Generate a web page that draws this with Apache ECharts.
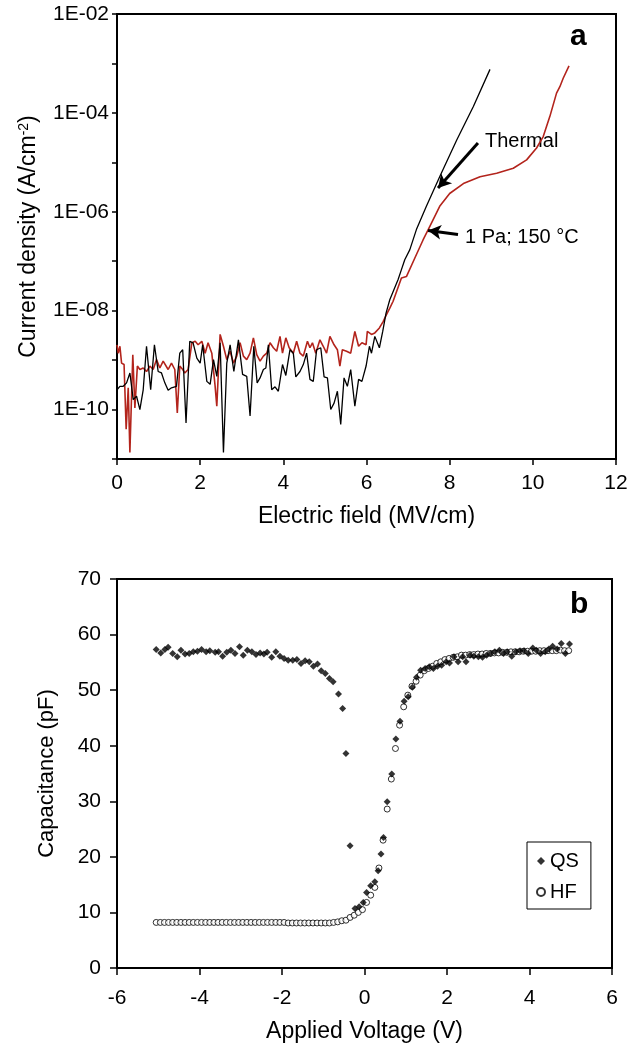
<!DOCTYPE html>
<html><head><meta charset="utf-8">
<script src="https://cdn.jsdelivr.net/npm/echarts@6/dist/echarts.min.js"></script>
<style>html,body{margin:0;padding:0;background:#fff}#c{width:636px;height:1045px}</style>
</head><body><div id="c"></div>
<script>
// ---------- Panel a: current density vs electric field ----------
const thermalE = [0.0,0.07,0.15,0.23,0.31,0.39,0.47,0.55,0.63,0.71,0.81,0.90,0.99,1.07,1.15,1.23,1.31,1.43,1.51,1.58,1.66,1.75,1.83,1.92,2.0,2.06,2.16,2.24,2.32,2.40,2.48,2.56,2.64,2.72,2.81,2.92,3.02,3.12,3.20,3.29,3.37,
3.44,3.52,3.58,3.64,3.72,3.80,3.88,3.98,4.06,4.16,4.24,4.30,4.40,4.48,4.56,4.64,4.72,4.80,4.90,4.98,5.06,5.14,5.22,5.30,5.38,5.46,5.54,5.62,5.72,5.81,5.89,5.99,6.07,6.12,6.20,6.31,6.39,6.47,6.56,
6.76,6.84,6.92,7.04,7.20,7.44,7.76,8.17,8.57,8.97];
// log10 of current density (A/cm^2)
const thermalLogJ = [-9.60,-9.53,-9.53,-9.46,-9.26,-9.80,-9.73,-10.0,-9.60,-8.72,-9.60,-8.69,-9.23,-9.26,-9.46,-9.61,-9.56,-9.53,-8.86,-8.79,-10.27,-8.62,-8.65,-8.96,-9.06,-8.69,-9.43,-9.49,-8.99,-9.33,-8.65,-10.87,-9.06,-8.69,-9.23,-8.59,-9.29,-9.33,-10.13,-8.72,-9.46,
-9.36,-9.19,-9.16,-8.69,-9.60,-9.54,-9.63,-9.09,-9.31,-8.79,-8.86,-9.34,-9.23,-9.09,-8.86,-9.39,-9.43,-8.79,-8.75,-9.34,-9.36,-10.0,-9.87,-9.63,-10.30,-9.36,-9.53,-9.19,-9.93,-9.39,-9.43,-9.12,-8.72,-8.86,-8.52,-8.75,-8.42,-8.05,-7.78,
-7.37,-7.17,-6.97,-6.77,-6.36,-5.89,-5.29,-4.55,-3.87,-3.12];

const plasmaE = [0.0,0.03,0.07,0.11,0.17,0.22,0.27,0.31,0.38,0.43,0.49,0.55,0.63,0.71,0.79,0.87,0.95,1.03,1.11,1.23,1.31,1.39,1.45,1.51,1.58,1.63,1.71,1.80,1.88,1.95,2.04,2.12,2.19,2.28,2.36,2.40,2.48,2.56,2.64,2.72,2.80,2.88,2.96,3.04,3.12,3.20,3.28,3.36,
3.44,3.52,3.60,3.68,3.76,3.84,3.92,3.98,4.06,4.14,4.24,4.32,4.40,4.48,4.58,4.64,4.70,4.78,4.88,4.96,5.04,5.12,5.22,5.30,5.36,5.42,5.52,5.62,5.72,5.81,5.89,5.99,6.02,6.12,6.20,6.31,6.40,6.48,6.56,6.64,
6.84,6.96,7.16,7.36,7.52,7.76,8.0,8.33,8.73,9.13,9.53,9.85,10.09,10.25,10.41,10.57,10.65,10.73,10.87];
const plasmaLogJ = [-8.69,-8.86,-8.72,-9.06,-9.09,-10.40,-9.56,-10.87,-8.89,-9.97,-9.12,-9.19,-9.16,-9.23,-9.12,-9.19,-8.99,-9.16,-9.02,-9.19,-9.06,-9.19,-10.07,-9.12,-9.19,-9.26,-9.19,-8.65,-8.62,-8.69,-8.62,-8.86,-8.65,-8.86,-9.53,-9.93,-8.48,-8.72,-8.99,-8.82,-9.06,-8.92,-8.65,-8.92,-8.99,-8.86,-8.55,-8.89,
-9.02,-8.92,-8.86,-8.65,-8.75,-8.82,-8.52,-8.86,-8.55,-8.75,-8.86,-8.62,-8.86,-8.92,-8.62,-8.75,-8.65,-8.86,-8.59,-8.72,-8.86,-8.52,-8.69,-8.79,-9.12,-8.79,-8.82,-8.86,-8.42,-8.72,-8.65,-8.69,-8.42,-8.48,-8.45,-8.35,-8.22,-8.08,-7.95,-7.81,
-7.34,-7.31,-6.94,-6.57,-6.30,-5.89,-5.63,-5.43,-5.29,-5.22,-5.12,-4.95,-4.71,-4.48,-4.07,-3.60,-3.47,-3.30,-3.05];

// annotation arrows [fromE, fromLogJ, toE, toLogJ]
const thermalArrow = [8.68, -4.61, 7.72, -5.52];
const plasmaArrow = [8.20, -6.46, 7.48, -6.38];

// ---------- Panel b: C-V ----------
const qsV = [-5.05,-4.94,-4.84,-4.76,-4.65,-4.54,-4.45,-4.35,-4.25,-4.15,-4.05,-3.95,-3.84,-3.75,-3.62,-3.54,-3.44,-3.34,-3.24,-3.14,-3.03,-2.94,-2.84,-2.73,-2.63,-2.53,-2.44,-2.36,-2.25,-2.15,-2.05,-1.95,-1.85,-1.74,-1.64,-1.54,-1.44,-1.34,-1.24,-1.14,-1.05,-0.95,-0.85,-0.76,-0.63,-0.53,-0.45,-0.35,-0.23,-0.13,-0.03,0.05,0.15,0.25,0.33,0.40,0.46,0.55,0.66,0.76,0.86,0.96,1.06,1.16,1.26,1.36,1.47,1.57,1.67,1.77,1.87,1.98,2.06,2.17,2.27,2.38,2.46,2.56,2.65,2.76,2.86,2.96,3.06,3.16,3.27,3.37,3.46,3.57,3.67,3.77,3.87,3.97,4.08,4.17,4.27,4.38,4.47,4.56,4.67,4.77,4.87,4.97];
const qsC = [57.3,56.7,57.3,57.7,56.6,56.0,57.2,56.5,56.6,56.9,57.0,57.3,56.9,57.1,56.8,56.9,56.1,56.8,57.2,56.6,57.8,56.3,57.2,56.9,56.4,56.7,56.5,56.8,55.9,56.9,56.1,55.7,55.4,55.4,55.5,54.8,55.3,55.1,54.3,54.7,53.5,53.0,52.1,51.5,49.3,46.7,38.6,22.0,10.7,11.0,11.8,13.6,14.8,15.5,17.5,20.5,23.5,29.9,34.9,41.2,44.4,48.0,48.8,50.5,52.3,53.6,53.9,54.2,53.9,54.3,54.5,55.1,54.9,56.0,55.1,56.0,55.1,56.3,56.1,56.0,55.9,56.3,56.6,56.9,57.2,56.6,56.9,56.1,56.9,57.1,57.1,56.6,57.6,57.2,56.6,56.9,57.4,57.9,57.4,58.4,56.6,58.3];

const hfV = [-5.05,-4.95,-4.85,-4.75,-4.65,-4.55,-4.45,-4.35,-4.25,-4.15,-4.05,-3.95,-3.85,-3.75,-3.65,-3.55,-3.45,-3.35,-3.25,-3.15,-3.05,-2.95,-2.85,-2.75,-2.65,-2.55,-2.45,-2.35,-2.25,-2.15,-2.05,-1.95,-1.85,-1.75,-1.65,-1.55,-1.45,-1.35,-1.25,-1.15,-1.05,-0.95,-0.85,-0.75,-0.65,-0.55,-0.45,-0.35,-0.25,-0.15,-0.05,0.05,0.15,0.25,0.35,0.45,0.55,0.65,0.75,0.85,0.95,1.05,1.15,1.25,1.35,1.45,1.55,1.65,1.75,1.85,1.95,2.05,2.15,2.25,2.35,2.45,2.55,2.65,2.75,2.85,2.95,3.05,3.15,3.25,3.35,3.45,3.55,3.65,3.75,3.85,3.95,4.05,4.15,4.25,4.35,4.45,4.55,4.65,4.75,4.85,4.95];
const hfC = [8.2,8.2,8.2,8.2,8.2,8.2,8.2,8.2,8.2,8.2,8.2,8.2,8.2,8.2,8.2,8.2,8.2,8.2,8.2,8.2,8.2,8.2,8.2,8.2,8.2,8.2,8.2,8.2,8.2,8.2,8.2,8.2,8.1,8.1,8.1,8.1,8.1,8.1,8.1,8.1,8.1,8.1,8.1,8.2,8.3,8.5,8.6,9.1,9.5,10.0,10.5,11.8,13.1,14.5,18.0,23.0,28.6,34.0,39.5,43.7,47.0,49.1,50.7,51.6,52.7,53.5,53.9,54.3,54.8,55.1,55.5,55.7,55.9,56.0,56.3,56.3,56.4,56.4,56.5,56.5,56.6,56.6,56.7,56.7,56.8,56.8,56.9,56.9,56.9,57.0,57.0,57.0,57.0,57.1,57.1,57.1,57.1,57.1,57.2,57.1,57.1];

const yTicksA = [-11, -2]; // log10 range of panel a

const FONT = '"Liberation Sans", Arial, sans-serif';
const pow = v => Math.pow(10, v);
const pairsLog = (xs, ys) => xs.map((x, i) => [x, pow(ys[i])]);
const pairs = (xs, ys) => xs.map((x, i) => [x, ys[i]]);

const chart = echarts.init(document.getElementById('c'), null, {renderer: 'canvas'});
const tickStyle = {color: '#000', width: 1.5};
const TICKFS = 21;
chart.setOption({
  animation: false,
  backgroundColor: '#fff',
  textStyle: {fontFamily: FONT, color: '#000'},
  grid: [
    {left: 117, top: 14, width: 499, height: 445, show: true, borderColor: '#000', borderWidth: 2, backgroundColor: 'transparent'},
    {left: 117, top: 579, width: 495, height: 389, show: true, borderColor: '#000', borderWidth: 2, backgroundColor: 'transparent'}
  ],
  xAxis: [
    {gridIndex: 0, type: 'value', min: 0, max: 12, interval: 2,
     name: 'Electric field (MV/cm)', nameLocation: 'middle', nameGap: 46,
     nameTextStyle: {fontSize: 23, color: '#000', fontFamily: FONT},
     axisLine: {onZero: false, lineStyle: {color: '#000', width: 2}},
     axisTick: {length: 6, lineStyle: tickStyle},
     axisLabel: {fontSize: TICKFS, color: '#000', margin: 14, fontFamily: FONT},
     splitLine: {show: false}},
    {gridIndex: 1, type: 'value', min: -6, max: 6, interval: 2,
     name: 'Applied Voltage (V)', nameLocation: 'middle', nameGap: 52,
     nameTextStyle: {fontSize: 23, color: '#000', fontFamily: FONT},
     axisLine: {onZero: false, lineStyle: {color: '#000', width: 2}},
     axisTick: {length: 7, lineStyle: tickStyle},
     axisLabel: {fontSize: TICKFS, color: '#000', margin: 20, fontFamily: FONT},
     splitLine: {show: false}}
  ],
  yAxis: [
    {gridIndex: 0, type: 'log', logBase: 10, min: pow(yTicksA[0]), max: pow(yTicksA[1]), splitNumber: 9, interval: 1,
     name: '{n|Current density (A/cm}{sup|-2}{n|)}', nameLocation: 'middle', nameGap: 77,
     nameTextStyle: {fontSize: 23, color: '#000', fontFamily: FONT,
       rich: {n: {fontSize: 23, fontFamily: FONT, color: '#000'}, sup: {fontSize: 14, fontFamily: FONT, color: '#000', verticalAlign: 'top'}}},
     axisLine: {onZero: false, lineStyle: {color: '#000', width: 2}},
     axisTick: {length: 5, lineStyle: tickStyle},
     axisLabel: {fontSize: TICKFS, color: '#000', margin: 8, fontFamily: FONT,
       formatter: v => { const e = Math.round(Math.log10(v)); if (e % 2 !== 0) return ''; const a = Math.abs(e); return '1E-' + (a < 10 ? '0' : '') + a; }},
     splitLine: {show: false}},
    {gridIndex: 1, type: 'value', min: 0, max: 70, interval: 10,
     name: 'Capacitance (pF)', nameLocation: 'middle', nameGap: 59,
     nameTextStyle: {fontSize: 22, color: '#000', fontFamily: FONT},
     axisLine: {onZero: false, lineStyle: {color: '#000', width: 2}},
     axisTick: {length: 7, lineStyle: tickStyle},
     axisLabel: {fontSize: TICKFS, color: '#000', margin: 16, fontFamily: FONT},
     splitLine: {show: false}}
  ],
  legend: {
    data: [{name: 'QS', icon: 'diamond'}, {name: 'HF', icon: 'circle'}],
    orient: 'vertical', left: 527, top: 842,
    borderColor: '#000', borderWidth: 1, backgroundColor: '#fff',
    padding: [9, 12, 7, 9], itemGap: 11, itemWidth: 8, itemHeight: 8,
    textStyle: {fontSize: 20, color: '#000', fontFamily: FONT}
  },
  series: [
    {name: 'Thermal', type: 'line', xAxisIndex: 0, yAxisIndex: 0, data: pairsLog(thermalE, thermalLogJ),
     showSymbol: false, symbol: 'none', lineStyle: {color: '#000', width: 1.3}, z: 3,
     markLine: {silent: true, symbol: ['none', 'arrow'], symbolSize: [11, 13], animation: false,
       lineStyle: {color: '#000', width: 3, type: 'solid'}, label: {show: false},
       data: [
         [{coord: [thermalArrow[0], pow(thermalArrow[1])]}, {coord: [thermalArrow[2], pow(thermalArrow[3])]}],
         [{coord: [plasmaArrow[0], pow(plasmaArrow[1])]}, {coord: [plasmaArrow[2], pow(plasmaArrow[3])]}]
       ]}},
    {name: '1 Pa; 150 °C', type: 'line', xAxisIndex: 0, yAxisIndex: 0, data: pairsLog(plasmaE, plasmaLogJ),
     showSymbol: false, symbol: 'none', lineStyle: {color: '#b3241c', width: 1.6}, z: 2},
    {name: 'QS', type: 'scatter', xAxisIndex: 1, yAxisIndex: 1, data: pairs(qsV, qsC),
     symbol: 'diamond', symbolSize: 7, itemStyle: {color: '#000'}, z: 4},
    {name: 'HF', type: 'scatter', xAxisIndex: 1, yAxisIndex: 1, data: pairs(hfV, hfC),
     symbol: 'circle', symbolSize: 6, itemStyle: {color: '#fff', borderColor: '#000', borderWidth: 1}, z: 3}
  ],
  graphic: [
    {type: 'text', left: 485, top: 131, style: {text: 'Thermal', fontSize: 20, fontFamily: FONT, fill: '#000'}},
    {type: 'text', left: 465, top: 227, style: {text: '1 Pa; 150 °C', fontSize: 20, fontFamily: FONT, fill: '#000'}},
    {type: 'text', left: 570, top: 22, style: {text: 'a', fontSize: 30, fontWeight: 'bold', fontFamily: FONT, fill: '#000'}},
    {type: 'text', left: 570, top: 590, style: {text: 'b', fontSize: 30, fontWeight: 'bold', fontFamily: FONT, fill: '#000'}}
  ]
});
</script></body></html>
